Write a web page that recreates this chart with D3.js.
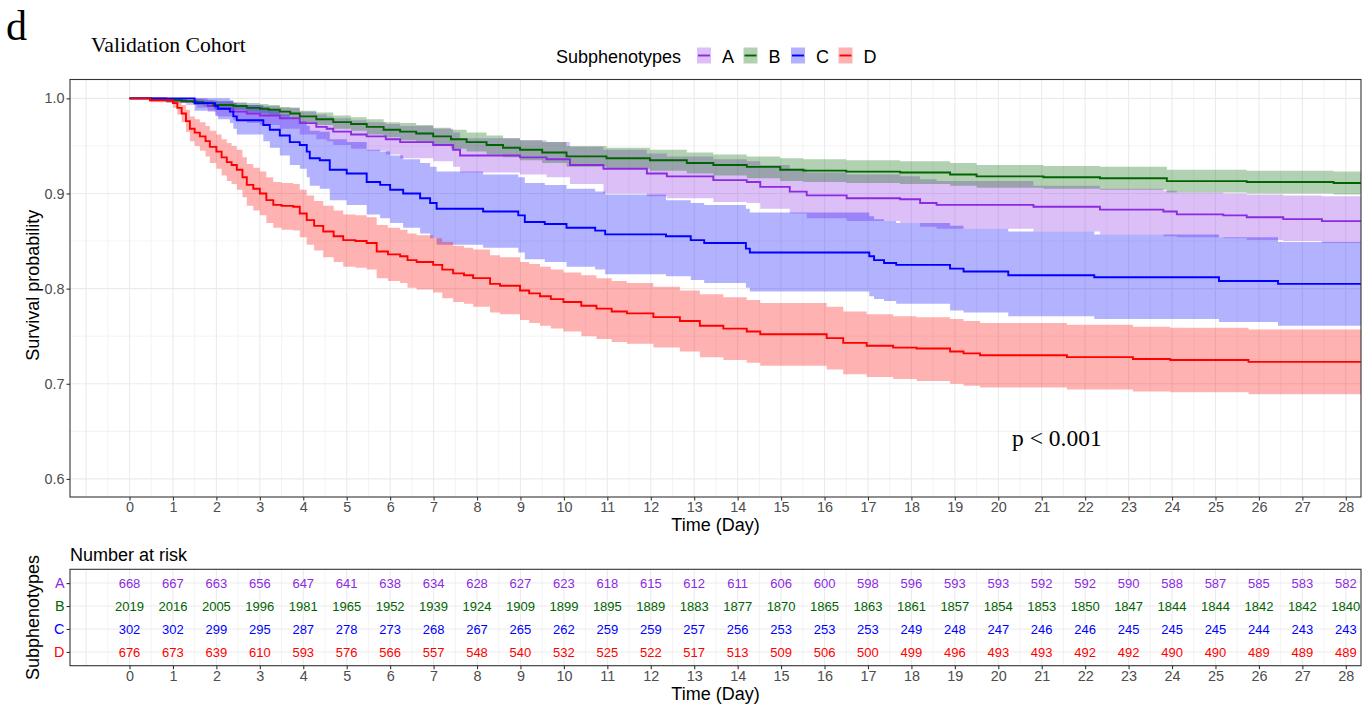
<!DOCTYPE html>
<html><head><meta charset="utf-8">
<script src="https://cdn.jsdelivr.net/npm/d3@7"></script>
<style>
body{margin:0;background:#fff}
text{font-family:"Liberation Sans",Arial,Helvetica,sans-serif}
</style>
</head><body>
<svg id="c" width="1362" height="710"></svg>
<script>
// ---------------- data ----------------
const groups = ["A","B","C","D"];

const timeA  = [0,0.85,1.3,1.55,1.8,2.0,2.39,2.7,3.0,3.46,3.92,4.3,4.54,4.69,5.1,5.46,5.9,6.23,6.99,7.45,7.61,8.99,9.6,10.14,10.91,11.91,12.37,13.44,14.21,14.52,15.2,15.59,16.51,17.74,18.2,18.58,20.81,22.34,23.8,24.11,25.18,25.72,26.56,27.45];
const survA  = [1.0,0.998,0.997,0.995,0.992,0.989,0.986,0.984,0.982,0.979,0.974,0.970,0.968,0.965,0.962,0.960,0.957,0.954,0.951,0.946,0.940,0.938,0.936,0.930,0.926,0.921,0.918,0.914,0.912,0.907,0.902,0.898,0.895,0.894,0.890,0.888,0.886,0.883,0.881,0.878,0.877,0.875,0.873,0.871];
const lowerA = [1,0.995,0.993,0.990,0.986,0.981,0.977,0.974,0.972,0.968,0.962,0.957,0.955,0.951,0.947,0.945,0.941,0.937,0.934,0.928,0.922,0.920,0.917,0.910,0.900,0.897,0.895,0.891,0.890,0.884,0.879,0.874,0.871,0.869,0.865,0.863,0.860,0.857,0.855,0.854,0.853,0.851,0.850,0.848];
const upperA = [1,1,1,1,0.998,0.997,0.995,0.993,0.992,0.990,0.986,0.983,0.981,0.979,0.977,0.975,0.973,0.971,0.968,0.964,0.958,0.956,0.954,0.949,0.946,0.942,0.939,0.936,0.934,0.930,0.926,0.922,0.920,0.918,0.915,0.913,0.908,0.905,0.903,0.901,0.900,0.899,0.898,0.897];

const timeB  = [0,0.5,0.85,1.2,1.47,1.7,1.93,2.39,2.7,3.0,3.2,3.46,3.7,3.92,4.3,4.69,5.1,5.46,5.85,6.23,6.6,6.99,7.4,7.76,8.22,8.6,8.99,9.5,10.06,10.98,11.98,12.83,13.44,14.21,14.98,15.51,16.5,17.74,18.89,19.5,21.04,22.34,23.88,25.72,27.72];
const survB  = [1.0,0.999,0.998,0.997,0.996,0.995,0.993,0.992,0.990,0.989,0.988,0.986,0.984,0.981,0.978,0.975,0.973,0.970,0.967,0.965,0.963,0.960,0.957,0.954,0.951,0.948,0.946,0.943,0.939,0.937,0.935,0.932,0.930,0.928,0.925,0.924,0.923,0.922,0.920,0.918,0.917,0.916,0.913,0.912,0.911];
const lowerB = [1,0.998,0.996,0.995,0.993,0.992,0.989,0.988,0.986,0.984,0.983,0.981,0.978,0.975,0.972,0.968,0.966,0.962,0.959,0.956,0.954,0.951,0.947,0.944,0.941,0.938,0.935,0.932,0.928,0.926,0.924,0.921,0.919,0.916,0.913,0.912,0.911,0.910,0.908,0.906,0.905,0.904,0.901,0.900,0.899];
const upperB = [1,1,1,0.999,0.999,0.998,0.997,0.996,0.995,0.994,0.993,0.991,0.990,0.987,0.985,0.982,0.980,0.978,0.975,0.974,0.972,0.969,0.967,0.964,0.961,0.958,0.956,0.954,0.950,0.948,0.946,0.943,0.941,0.939,0.937,0.936,0.935,0.934,0.932,0.930,0.929,0.928,0.925,0.924,0.923];

const timeC  = [0,1.5,1.97,2.04,2.31,2.39,2.47,3.08,3.23,3.46,3.69,3.92,4.08,4.15,4.38,4.61,5.0,5.46,5.77,6.0,6.3,6.69,6.92,7.07,8.14,8.95,9.1,9.56,10.06,10.72,10.95,12.35,12.92,13.23,14.19,14.28,17.03,17.14,17.37,17.65,18.89,19.2,20.23,22.21,25.08,26.44];
const survC  = [1.0,0.995,0.992,0.989,0.986,0.981,0.977,0.972,0.967,0.961,0.954,0.951,0.944,0.937,0.935,0.925,0.921,0.912,0.909,0.904,0.900,0.895,0.890,0.884,0.881,0.877,0.870,0.868,0.864,0.861,0.857,0.855,0.851,0.848,0.842,0.838,0.834,0.830,0.827,0.825,0.821,0.818,0.814,0.812,0.808,0.805];
const lowerC = [1,0.987,0.982,0.978,0.974,0.968,0.962,0.955,0.948,0.940,0.930,0.926,0.917,0.908,0.905,0.893,0.888,0.878,0.874,0.869,0.864,0.858,0.853,0.846,0.843,0.838,0.831,0.828,0.823,0.820,0.815,0.813,0.809,0.806,0.801,0.797,0.792,0.789,0.787,0.784,0.777,0.775,0.771,0.768,0.765,0.761];
const upperC = [1,1,1,1,0.998,0.995,0.993,0.990,0.987,0.983,0.978,0.976,0.971,0.966,0.965,0.957,0.954,0.946,0.944,0.940,0.936,0.932,0.928,0.923,0.920,0.917,0.911,0.909,0.905,0.902,0.899,0.893,0.890,0.888,0.884,0.880,0.876,0.873,0.871,0.869,0.866,0.863,0.860,0.857,0.854,0.849];

const timeD  = [0,0.47,1.0,1.1,1.2,1.3,1.39,1.5,1.62,1.75,1.85,2.0,2.12,2.24,2.35,2.47,2.6,2.7,2.85,3.0,3.15,3.31,3.5,3.77,3.92,4.08,4.25,4.46,4.7,4.92,5.2,5.46,5.69,5.95,6.23,6.4,6.61,6.99,7.2,7.45,7.7,7.91,8.3,8.53,8.99,9.2,9.45,9.7,9.99,10.4,10.75,11.1,11.45,12.06,12.67,13.13,13.67,14.21,14.52,16.05,16.43,16.97,17.58,18.12,18.89,19.2,19.58,21.58,23.1,23.96,25.76];
const survD  = [1.0,0.998,0.995,0.990,0.984,0.976,0.968,0.964,0.960,0.955,0.949,0.944,0.938,0.933,0.930,0.925,0.917,0.909,0.905,0.900,0.893,0.888,0.887,0.886,0.879,0.872,0.866,0.860,0.855,0.851,0.850,0.848,0.839,0.836,0.834,0.830,0.828,0.825,0.820,0.816,0.814,0.811,0.805,0.803,0.798,0.795,0.792,0.789,0.786,0.782,0.779,0.776,0.774,0.770,0.766,0.761,0.758,0.755,0.752,0.748,0.743,0.740,0.738,0.737,0.734,0.732,0.730,0.728,0.726,0.725,0.723];
const lowerD = [1,0.996,0.990,0.983,0.975,0.965,0.955,0.950,0.945,0.939,0.932,0.926,0.919,0.913,0.910,0.904,0.896,0.887,0.882,0.877,0.869,0.864,0.862,0.861,0.854,0.846,0.840,0.833,0.828,0.823,0.822,0.820,0.811,0.808,0.806,0.801,0.799,0.796,0.790,0.786,0.784,0.781,0.775,0.773,0.767,0.764,0.761,0.758,0.755,0.750,0.747,0.744,0.742,0.738,0.734,0.728,0.725,0.722,0.719,0.715,0.710,0.707,0.705,0.703,0.700,0.698,0.696,0.694,0.692,0.691,0.689];
const upperD = [1,1,1,0.997,0.993,0.988,0.981,0.978,0.975,0.971,0.966,0.962,0.957,0.953,0.950,0.946,0.938,0.931,0.927,0.923,0.917,0.912,0.911,0.910,0.904,0.898,0.892,0.887,0.882,0.878,0.877,0.875,0.867,0.864,0.862,0.858,0.856,0.853,0.849,0.845,0.843,0.841,0.835,0.833,0.828,0.826,0.823,0.820,0.817,0.814,0.811,0.808,0.806,0.802,0.798,0.794,0.791,0.788,0.785,0.781,0.776,0.773,0.771,0.770,0.768,0.766,0.764,0.762,0.760,0.759,0.757];

const riskTimes = [0,1,2,3,4,5,6,7,8,9,10,11,12,13,14,15,16,17,18,19,20,21,22,23,24,25,26,27,28];
const riskA = [668,667,663,656,647,641,638,634,628,627,623,618,615,612,611,606,600,598,596,593,593,592,592,590,588,587,585,583,582];
const riskB = [2019,2016,2005,1996,1981,1965,1952,1939,1924,1909,1899,1895,1889,1883,1877,1870,1865,1863,1861,1857,1854,1853,1850,1847,1844,1844,1842,1842,1840];
const riskC = [302,302,299,295,287,278,273,268,267,265,262,259,259,257,256,253,253,253,249,248,247,246,246,245,245,245,244,243,243];
const riskD = [676,673,639,610,593,576,566,557,548,540,532,525,522,517,513,509,506,500,499,496,493,493,492,492,490,490,489,489,489];

const yTicks = [0.6,0.7,0.8,0.9,1.0];
const xTicks = riskTimes;

// ---------------- styles ----------------
const colors = {A:"#8A2BE2", B:"#006400", C:"#0000FF", D:"#FF0000"};
const series = {
  A:{t:timeA,s:survA,l:lowerA,u:upperA,r:riskA},
  B:{t:timeB,s:survB,l:lowerB,u:upperB,r:riskB},
  C:{t:timeC,s:survC,l:lowerC,u:upperC,r:riskC},
  D:{t:timeD,s:survD,l:lowerD,u:upperD,r:riskD}
};
const serif = "'Liberation Serif','Times New Roman',Times,serif";

const svg = d3.select("#c");
const P = {l:70, r:1361, t:79.5, b:497};
const R = {t:569.3, b:665.7};

const x = d3.scaleLinear().domain([-1.37, 28.35]).range([P.l, P.r]);
const y = d3.scaleLinear().domain([0.581, 1.0198]).range([P.b, P.t]);
const yr = d3.scalePoint().domain(groups).range([R.t, R.b]).padding(0.6);

const gridMajor = "#EBEBEB", gridMinor = "#F0F0F0";
const xMajor = d3.range(-1, 29, 1), xMinor = d3.range(-0.5, 28.4, 1);

// main panel grid
const g = svg.append("g");
g.selectAll(".ymin").data([0.65,0.75,0.85,0.95]).join("line")
  .attr("x1",P.l).attr("x2",P.r).attr("y1",d=>y(d)).attr("y2",d=>y(d))
  .attr("stroke",gridMinor).attr("stroke-width",0.8);
g.selectAll(".xmin").data(xMinor).join("line")
  .attr("x1",d=>x(d)).attr("x2",d=>x(d)).attr("y1",P.t).attr("y2",P.b)
  .attr("stroke",gridMinor).attr("stroke-width",0.8);
g.selectAll(".ymaj").data(yTicks).join("line")
  .attr("x1",P.l).attr("x2",P.r).attr("y1",d=>y(d)).attr("y2",d=>y(d))
  .attr("stroke",gridMajor).attr("stroke-width",1.1);
g.selectAll(".xmaj").data(xMajor).join("line")
  .attr("x1",d=>x(d)).attr("x2",d=>x(d)).attr("y1",P.t).attr("y2",P.b)
  .attr("stroke",gridMajor).attr("stroke-width",1.1);

svg.append("clipPath").attr("id","clip").append("rect")
  .attr("x",P.l).attr("y",P.t).attr("width",P.r-P.l).attr("height",P.b-P.t);
const plot = svg.append("g").attr("clip-path","url(#clip)");

function pts(k){
  const s = series[k];
  const arr = s.t.map((t,i)=>({t, s:s.s[i], l:s.l[i], u:s.u[i]}));
  const last = arr[arr.length-1];
  arr.push({t:x.domain()[1], s:last.s, l:last.l, u:last.u});
  return arr;
}
const area = d3.area().curve(d3.curveStepAfter).x(d=>x(d.t)).y0(d=>y(d.l)).y1(d=>y(d.u));
const line = d3.line().curve(d3.curveStepAfter).x(d=>x(d.t)).y(d=>y(d.s));

groups.forEach(k=>{
  plot.append("path").attr("d",area(pts(k))).attr("fill",colors[k]).attr("fill-opacity",0.3).attr("stroke","none");
});
groups.forEach(k=>{
  plot.append("path").attr("d",line(pts(k))).attr("fill","none").attr("stroke",colors[k]).attr("stroke-width",1.9);
});

svg.append("rect").attr("x",P.l).attr("y",P.t).attr("width",P.r-P.l).attr("height",P.b-P.t)
  .attr("fill","none").attr("stroke","#333").attr("stroke-width",1.1);

// axes
function styleAxis(sel){
  sel.select(".domain").remove();
  sel.selectAll(".tick line").attr("stroke","#333").attr("stroke-width",1.1);
  sel.selectAll(".tick text").attr("fill","#4D4D4D").style("font-size","14.4px")
     .style("font-family","'Liberation Sans',Arial,sans-serif");
}
svg.append("g").attr("transform",`translate(0,${P.b})`)
  .call(d3.axisBottom(x).tickValues(xTicks).tickFormat(d3.format("d")).tickSize(3.5).tickPadding(1.5))
  .call(styleAxis);
svg.append("g").attr("transform",`translate(${P.l},0)`)
  .call(d3.axisLeft(y).tickValues(yTicks).tickFormat(d3.format(".1f")).tickSize(3.5).tickPadding(2))
  .call(styleAxis);

svg.append("text").attr("x",(P.l+P.r)/2).attr("y",530.5).attr("text-anchor","middle")
  .style("font-size","18px").text("Time (Day)");
svg.append("text").attr("transform",`translate(39,${(P.t+P.b)/2 - 3}) rotate(-90)`).attr("text-anchor","middle")
  .style("font-size","18px").text("Survival probability");

// p value
svg.append("text").attr("x",1012).attr("y",445.5)
  .style("font-size","23.5px").style("font-family",serif).text("p < 0.001");

// titles
svg.append("text").attr("x",6).attr("y",40).style("font-size","42px")
  .style("font-family",serif).text("d");
svg.append("text").attr("x",91).attr("y",52).style("font-size","21.7px")
  .style("font-family",serif).text("Validation Cohort");

// legend
svg.append("text").attr("x",556).attr("y",62.5).style("font-size","18px").text("Subphenotypes");
const legX = {A:697, B:743.5, C:791, D:838.5};
groups.forEach(k=>{
  const lx = legX[k];
  svg.append("rect").attr("x",lx).attr("y",47.5).attr("width",14).attr("height",16)
    .attr("fill",colors[k]).attr("fill-opacity",0.3);
  svg.append("line").attr("x1",lx+1).attr("x2",lx+13).attr("y1",55.5).attr("y2",55.5)
    .attr("stroke",colors[k]).attr("stroke-width",1.9);
  svg.append("text").attr("x",lx+25).attr("y",62.5).style("font-size","18px").text(k);
});

// ---------------- risk table ----------------
svg.append("text").attr("x",70).attr("y",560.5).style("font-size","18px").text("Number at risk");
const rg = svg.append("g");
rg.selectAll(".xmin").data(xMinor).join("line")
  .attr("x1",d=>x(d)).attr("x2",d=>x(d)).attr("y1",R.t).attr("y2",R.b)
  .attr("stroke",gridMinor).attr("stroke-width",0.8);
rg.selectAll(".xmaj").data(xMajor).join("line")
  .attr("x1",d=>x(d)).attr("x2",d=>x(d)).attr("y1",R.t).attr("y2",R.b)
  .attr("stroke",gridMajor).attr("stroke-width",1.1);
rg.selectAll(".ymaj").data(groups).join("line")
  .attr("x1",P.l).attr("x2",P.r).attr("y1",d=>yr(d)).attr("y2",d=>yr(d))
  .attr("stroke",gridMajor).attr("stroke-width",1.1);

groups.forEach(k=>{
  rg.selectAll(".n"+k).data(series[k].r).join("text")
    .attr("x",(d,i)=>x(riskTimes[i])).attr("y",yr(k)).attr("dy","0.36em")
    .attr("text-anchor","middle").attr("fill",colors[k]).style("font-size","13px")
    .text(d=>d);
});
svg.append("rect").attr("x",P.l).attr("y",R.t).attr("width",P.r-P.l).attr("height",R.b-R.t)
  .attr("fill","none").attr("stroke","#333").attr("stroke-width",1.1);

svg.append("g").attr("transform",`translate(0,${R.b})`)
  .call(d3.axisBottom(x).tickValues(xTicks).tickFormat(d3.format("d")).tickSize(3.5).tickPadding(1.5))
  .call(styleAxis);
const ly = svg.append("g").attr("transform",`translate(${P.l},0)`)
  .call(d3.axisLeft(yr).tickSize(3.5).tickPadding(2))
  .call(styleAxis);
ly.selectAll(".tick text").attr("fill",d=>colors[d]);

svg.append("text").attr("x",(P.l+P.r)/2).attr("y",699.5).attr("text-anchor","middle")
  .style("font-size","18px").text("Time (Day)");
svg.append("text").attr("transform",`translate(39,${(R.t+R.b)/2}) rotate(-90)`).attr("text-anchor","middle")
  .style("font-size","18px").text("Subphenotypes");
</script>
</body></html>
